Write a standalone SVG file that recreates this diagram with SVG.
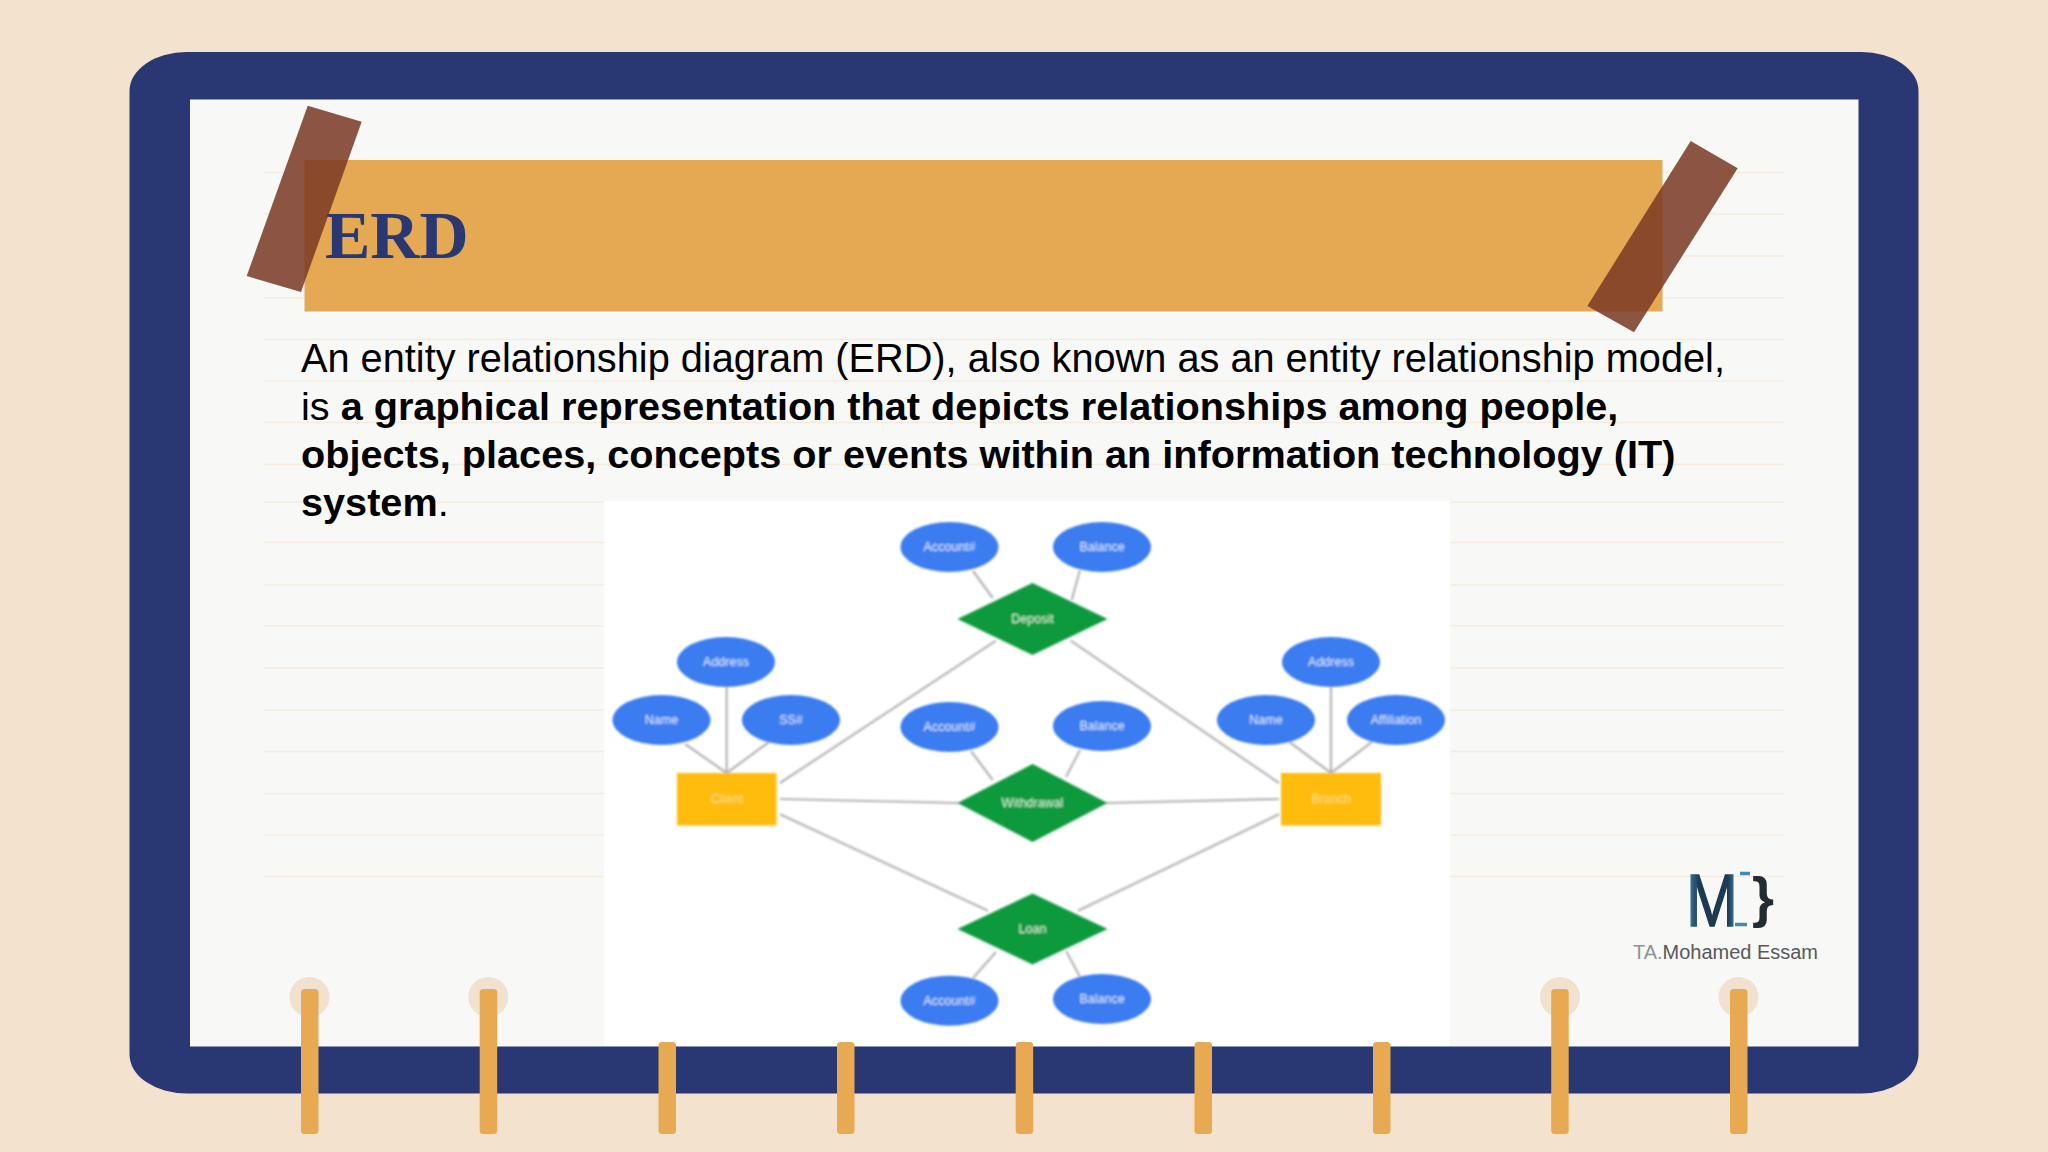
<svg xmlns="http://www.w3.org/2000/svg" width="2048" height="1152" viewBox="0 0 2048 1152">
<style>
.rule{stroke:#f4ecdf;stroke-width:1.6}
.bar{fill:#e7a951}
.hole{fill:#f1e2cf}
.tape{fill:#793823;fill-opacity:.85}
.body{font-family:"Liberation Sans",Arial,sans-serif;font-size:39.65px;fill:#000}
.b{font-weight:700}
.con{stroke:#b6b2b2;stroke-width:2.2;fill:none}
.attr{fill:#3b7df0}
.rel{fill:#0d9a3e}
.ent{fill:#ffbc0a}
.lbl{font-family:"Liberation Sans",Arial,sans-serif;font-size:12.5px;fill:#dfeafc;text-anchor:middle}
.ent + .lbl{fill:#ffdf85}
.rel + .lbl{fill:#d8f5dc}
</style>
<defs><filter id="soft" x="-5%" y="-5%" width="110%" height="110%"><feGaussianBlur stdDeviation="0.9"/></filter>
<linearGradient id="mg" x1="0" x2="1" y1="0" y2="0"><stop offset="0" stop-color="#3f8ab8"/><stop offset=".25" stop-color="#1d3a50"/><stop offset=".8" stop-color="#1d3a50"/><stop offset="1" stop-color="#3f8ab8"/></linearGradient></defs>
<rect width="2048" height="1152" fill="#f3e2cd"/>
<rect x="129.5" y="52" width="1789" height="1041.5" rx="57" ry="39" fill="#293872"/>
<rect x="190" y="99.5" width="1668.5" height="947" fill="#f8f8f6"/>
<g id="rules">
<line class="rule" x1="264" x2="1784" y1="172.5" y2="172.5"/>
<line class="rule" x1="264" x2="1784" y1="214" y2="214"/>
<line class="rule" x1="264" x2="1784" y1="256" y2="256"/>
<line class="rule" x1="264" x2="1784" y1="298" y2="298"/>
<line class="rule" x1="264" x2="1784" y1="339.5" y2="339.5"/>
<line class="rule" x1="264" x2="1784" y1="381" y2="381"/>
<line class="rule" x1="264" x2="1784" y1="422.5" y2="422.5"/>
<line class="rule" x1="264" x2="1784" y1="464.5" y2="464.5"/>
<line class="rule" x1="264" x2="1784" y1="502" y2="502"/>
<line class="rule" x1="264" x2="1784" y1="542.5" y2="542.5"/>
<line class="rule" x1="264" x2="1784" y1="585" y2="585"/>
<line class="rule" x1="264" x2="1784" y1="626" y2="626"/>
<line class="rule" x1="264" x2="1784" y1="668" y2="668"/>
<line class="rule" x1="264" x2="1784" y1="710" y2="710"/>
<line class="rule" x1="264" x2="1784" y1="751.5" y2="751.5"/>
<line class="rule" x1="264" x2="1784" y1="793.5" y2="793.5"/>
<line class="rule" x1="264" x2="1784" y1="835" y2="835"/>
<line class="rule" x1="264" x2="1784" y1="876.5" y2="876.5"/>
</g>
<g id="banner">
<rect x="304.5" y="160" width="1358" height="151.5" fill="#e5a853"/>
<text x="325" y="258" font-family="'Liberation Serif',serif" font-weight="700" font-size="68" fill="#293872">ERD</text>
</g>
<polygon class="tape" points="307.7,105.7 361.7,121.7 301,292 246.7,276"/>
<polygon class="tape" points="1690.7,141 1737.7,168.3 1634,332.3 1587.3,306"/>
<g id="bodytext">
<text class="body" x="301" y="372" font-size="39.72" style="font-size:39.72px">An entity relationship diagram (ERD), also known as an entity relationship model,</text>
<text class="body" x="301" y="420">is <tspan class="b">a graphical representation that depicts relationships among people,</tspan></text>
<text class="body b" x="301" y="468">objects, places, concepts or events within an information technology (IT)</text>
<text class="body" x="301" y="516"><tspan class="b">system</tspan>.</text>
</g>
<rect x="604" y="501" width="846" height="545" fill="#fff"/>
<g filter="url(#soft)">
<g id="connectors">
<path class="con" d="M973 571L992.7 598M1080 570L1071.7 600M996 640.7L780 783M1070.6 640.7L1279 783M726.7 687V773M685 744L726.7 773M769 742L726.7 773M1331 687V773M1289.5 742L1331 773M1372 742L1331 773M971 751L992.7 780M1080 750L1066 777M780 799L959 803M1106 803L1279 799M780 814.3L988 910.7M1279 814.3L1078 910.7M996 952L973 978M1066 951L1080 976.7"/>
</g>
<g id="n-account-dep"><ellipse class="attr" cx="949.5" cy="547" rx="49" ry="25"/><text class="lbl" x="949.5" y="551">Account#</text></g>
<g id="n-balance-dep"><ellipse class="attr" cx="1102" cy="547" rx="49" ry="25"/><text class="lbl" x="1102" y="551">Balance</text></g>
<g id="n-deposit"><polygon class="rel" points="1032.5,583 1107.5,619 1032.5,655 957.5,619"/><text class="lbl" x="1032.5" y="623">Deposit</text></g>
<g id="n-address-l"><ellipse class="attr" cx="726" cy="662" rx="49" ry="25"/><text class="lbl" x="726" y="666">Address</text></g>
<g id="n-name-l"><ellipse class="attr" cx="661.5" cy="720" rx="49" ry="25"/><text class="lbl" x="661.5" y="724">Name</text></g>
<g id="n-ss"><ellipse class="attr" cx="791" cy="720" rx="49" ry="25"/><text class="lbl" x="791" y="724">SS#</text></g>
<g id="n-account-wd"><ellipse class="attr" cx="949.5" cy="727" rx="49" ry="25"/><text class="lbl" x="949.5" y="731">Account#</text></g>
<g id="n-balance-wd"><ellipse class="attr" cx="1102" cy="726" rx="49" ry="25"/><text class="lbl" x="1102" y="730">Balance</text></g>
<g id="n-withdrawal"><polygon class="rel" points="1032.5,764 1107.5,803 1032.5,842 957.5,803"/><text class="lbl" x="1032.5" y="807">Withdrawal</text></g>
<g id="n-client"><rect class="ent" x="677" y="773" width="99.5" height="52.5"/><text class="lbl" x="727" y="803">Client</text></g>
<g id="n-branch"><rect class="ent" x="1281" y="773" width="100" height="52.5"/><text class="lbl" x="1331" y="803">Branch</text></g>
<g id="n-address-r"><ellipse class="attr" cx="1331" cy="662" rx="49" ry="25"/><text class="lbl" x="1331" y="666">Address</text></g>
<g id="n-name-r"><ellipse class="attr" cx="1266" cy="720" rx="49" ry="25"/><text class="lbl" x="1266" y="724">Name</text></g>
<g id="n-affiliation"><ellipse class="attr" cx="1396" cy="720" rx="49" ry="25"/><text class="lbl" x="1396" y="724">Affiliation</text></g>
<g id="n-loan"><polygon class="rel" points="1032.5,893.5 1107.5,929 1032.5,964.5 957.5,929"/><text class="lbl" x="1032.5" y="933">Loan</text></g>
<g id="n-account-loan"><ellipse class="attr" cx="949.5" cy="1000.7" rx="49" ry="25"/><text class="lbl" x="949.5" y="1005">Account#</text></g>
<g id="n-balance-loan"><ellipse class="attr" cx="1102" cy="999" rx="49" ry="25"/><text class="lbl" x="1102" y="1003">Balance</text></g>
</g>
<g id="rings">
<circle class="hole" cx="309.5" cy="997" r="20"/><circle class="hole" cx="488.3" cy="997" r="20"/><circle class="hole" cx="1560" cy="997" r="20"/><circle class="hole" cx="1738.5" cy="997" r="20"/>
<rect class="bar" x="301" y="989" width="17.5" height="145" rx="3.5"/>
<rect class="bar" x="479.7" y="989" width="17.5" height="145" rx="3.5"/>
<rect class="bar" x="658.5" y="1042" width="17.5" height="92" rx="3.5"/>
<rect class="bar" x="837" y="1042" width="17.5" height="92" rx="3.5"/>
<rect class="bar" x="1015.7" y="1042" width="17.5" height="92" rx="3.5"/>
<rect class="bar" x="1194.5" y="1042" width="17.5" height="92" rx="3.5"/>
<rect class="bar" x="1373" y="1042" width="17.5" height="92" rx="3.5"/>
<rect class="bar" x="1551.2" y="989" width="17.5" height="145" rx="3.5"/>
<rect class="bar" x="1730" y="989" width="17.5" height="145" rx="3.5"/>
</g>
<g id="logo">
<text x="1686" y="926" font-family="'Liberation Sans',sans-serif" font-size="75" textLength="52" lengthAdjust="spacingAndGlyphs" fill="url(#mg)" stroke="url(#mg)" stroke-width="1.5">M</text>
<path d="M1740 873.5H1750M1735 924.5H1747" stroke="#3f8ab8" stroke-width="3.5" fill="none"/>
<text x="1752" y="916" font-family="'Liberation Sans',sans-serif" font-weight="700" font-size="56" textLength="22" lengthAdjust="spacingAndGlyphs" fill="#252b33">}</text>
<text x="1633" y="959" font-family="'Liberation Sans',sans-serif" font-size="20" textLength="185" lengthAdjust="spacingAndGlyphs" fill="#55595e"><tspan fill="#8d9297">TA.</tspan>Mohamed Essam</text>
</g>
</svg>
